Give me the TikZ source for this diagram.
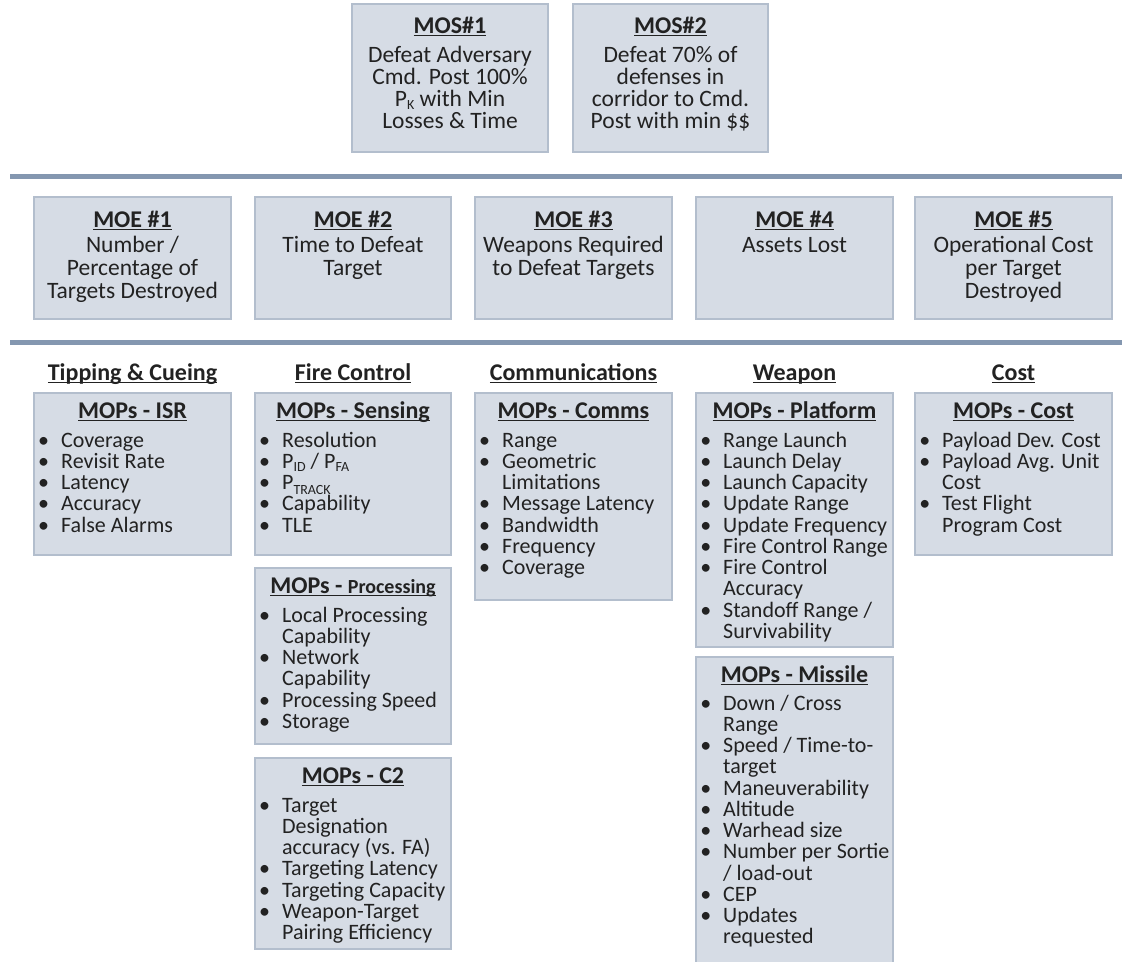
\documentclass[tikz,border=0pt]{standalone}
\usepackage{fontspec}
\setmainfont{Carlito}
\usetikzlibrary{calc}

\definecolor{boxfill}{HTML}{D6DCE5}
\definecolor{boxline}{HTML}{B3BECD}
\definecolor{rulecol}{HTML}{8497B0}
\definecolor{ink}{HTML}{222222}

% underlined heading text
\newsavebox\ulsave
\newcommand\ulbox[1]{\sbox\ulsave{#1}\rlap{\rule[-3.4pt]{\wd\ulsave}{1.7pt}}\usebox\ulsave}
% bullet hanging to the left of an item
\newcommand\bul{\leavevmode\llap{\textbullet\hspace{12pt}}}
% small lowered subscript
\newcommand\lowsub[2]{\raisebox{-#1}{\fontsize{14}{14}\selectfont #2}}

\tikzset{
  panel/.style={draw=boxline, fill=boxfill, line width=1.4pt, rectangle,
                inner sep=0pt, outer sep=0pt, anchor=north west},
  ttl/.style={anchor=base, inner sep=0pt, text=ink,
              font=\fontsize{24}{24}\selectfont\bfseries},
  body/.style={anchor=base, inner sep=0pt, text=ink,
               font=\fontsize{23.5}{22}\selectfont},
  items/.style={anchor=base west, inner sep=0pt, text=ink,
                font=\fontsize{22}{21.25}\selectfont},
  sep/.style={draw=rulecol, line width=5pt}
}

\begin{document}
\begin{tikzpicture}[x=1pt,y=-1pt]
\clip (0,0) rectangle (1124,961);
\fill[white] (0,0) rectangle (1124,961);

% ---- objectives (MOS) ----
\node[panel, minimum width=196, minimum height=148] (mos1) at (352,4) {};
\node[panel, minimum width=195, minimum height=148] (mos2) at (573,4) {};
\node[ttl] (mos1t) at (450,33) {\ulbox{MOS\#1}};
\node[ttl] (mos2t) at (670.5,33) {\ulbox{MOS\#2}};
\node[body] (mos1b) at (450,62) {\parbox[t]{190pt}{\centering
  Defeat Adversary\\Cmd. Post 100\%\\P\lowsub{3pt}{K} with Min\\Losses \& Time}};
\node[body] (mos2b) at (670.5,62) {\parbox[t]{190pt}{\centering
  Defeat 70\% of\\defenses in\\corridor to Cmd.\\Post with min \$\$}};

% ---- separators ----
\coordinate (r1a) at (10,176);  \coordinate (r1b) at (1122,176);
\coordinate (r2a) at (10,342);  \coordinate (r2b) at (1122,342);
\draw[sep] (r1a) -- (r1b);
\draw[sep] (r2a) -- (r2b);

% ---- effectiveness (MOE) ----
\node[panel, minimum width=197, minimum height=122] (moe1) at (34,197) {};
\node[panel, minimum width=196, minimum height=122] (moe2) at (255,197) {};
\node[panel, minimum width=197, minimum height=122] (moe3) at (475,197) {};
\node[panel, minimum width=197, minimum height=122] (moe4) at (696,197) {};
\node[panel, minimum width=197, minimum height=122] (moe5) at (915,197) {};
\node[ttl] (moe1t) at (132.5,227) {\ulbox{MOE \#1}};
\node[ttl] (moe2t) at (353,227)   {\ulbox{MOE \#2}};
\node[ttl] (moe3t) at (573.5,227) {\ulbox{MOE \#3}};
\node[ttl] (moe4t) at (794.5,227) {\ulbox{MOE \#4}};
\node[ttl] (moe5t) at (1013.5,227){\ulbox{MOE \#5}};
\tikzset{moebody/.style={body, font=\fontsize{23.5}{23}\selectfont}}
\node[moebody] (moe1b) at (132.5,252) {\parbox[t]{195pt}{\centering
  Number /\\Percentage of\\Targets Destroyed}};
\node[moebody] (moe2b) at (353,252) {\parbox[t]{195pt}{\centering
  Time to Defeat\\Target}};
\node[moebody] (moe3b) at (573.5,252) {\parbox[t]{195pt}{\centering
  Weapons Required\\to Defeat Targets}};
\node[moebody] (moe4b) at (794.5,252) {\parbox[t]{195pt}{\centering
  Assets Lost}};
\node[moebody] (moe5b) at (1013.5,252) {\parbox[t]{195pt}{\centering
  Operational Cost\\per Target\\Destroyed}};

% ---- column headings ----
\node[ttl] (h1) at (132.5,380) {\ulbox{Tipping \& Cueing}};
\node[ttl] (h2) at (353,380)   {\ulbox{Fire Control}};
\node[ttl] (h3) at (573.5,380) {\ulbox{Communications}};
\node[ttl] (h4) at (794.5,380) {\ulbox{Weapon}};
\node[ttl] (h5) at (1013.5,380){\ulbox{Cost}};

% ---- performance (MOP) panels ----
\node[panel, minimum width=197, minimum height=162] (isr)  at (34,393) {};
\node[panel, minimum width=196, minimum height=162] (sens) at (255,393) {};
\node[panel, minimum width=196, minimum height=176] (proc) at (255,568) {};
\node[panel, minimum width=196, minimum height=191] (ctwo) at (255,758) {};
\node[panel, minimum width=197, minimum height=207] (comm) at (475,393) {};
\node[panel, minimum width=197, minimum height=254] (plat) at (696,393) {};
\node[panel, minimum width=197, minimum height=320] (miss) at (696,657) {};
\node[panel, minimum width=197, minimum height=162] (cost) at (915,393) {};

\node[ttl] (isrt)  at (132.5,418) {\ulbox{MOPs - ISR}};
\node[ttl] (senst) at (353,418)   {\ulbox{MOPs - Sensing}};
\node[ttl] (proct) at (353,593)   {\ulbox{MOPs - {\fontsize{20}{20}\selectfont Processing}}};
\node[ttl] (ctwot) at (353,783)   {\ulbox{MOPs - C2}};
\node[ttl] (commt) at (573.5,418) {\ulbox{MOPs - Comms}};
\node[ttl] (platt) at (794.5,418) {\ulbox{MOPs - Platform}};
\node[ttl] (misst) at (794.5,682) {\ulbox{MOPs - Missile}};
\node[ttl] (costt) at (1013.5,418){\ulbox{MOPs - Cost}};

\node[items] (isrl) at (61,447) {\parbox[t]{250pt}{\raggedright
  \bul Coverage\\\bul Revisit Rate\\\bul Latency\\\bul Accuracy\\\bul False Alarms}};
\node[items] (sensl) at (282,447) {\parbox[t]{250pt}{\raggedright
  \bul Resolution\\
  \bul P\lowsub{3pt}{ID} / P\lowsub{3pt}{FA}\\
  \bul P\lowsub{5pt}{TRACK}\\
  \bul Capability\\
  \bul TLE}};
\node[items] (procl) at (282,622) {\parbox[t]{250pt}{\raggedright
  \bul Local Processing\\Capability\\\bul Network\\Capability\\
  \bul Processing Speed\\\bul Storage}};
\node[items] (ctwol) at (282,812) {\parbox[t]{250pt}{\raggedright
  \bul Target\\Designation\\accuracy (vs. FA)\\\bul Targeting Latency\\
  \bul Targeting Capacity\\\bul Weapon-Target\\Pairing Efficiency}};
\node[items] (comml) at (502,447) {\parbox[t]{250pt}{\raggedright
  \bul Range\\\bul Geometric\\Limitations\\\bul Message Latency\\
  \bul Bandwidth\\\bul Frequency\\\bul Coverage}};
\node[items] (platl) at (723,447) {\parbox[t]{250pt}{\raggedright
  \bul Range Launch\\\bul Launch Delay\\\bul Launch Capacity\\
  \bul Update Range\\\bul Update Frequency\\\bul Fire Control Range\\
  \bul Fire Control\\Accuracy\\\bul Standoff Range /\\Survivability}};
\node[items] (missl) at (723,710) {\parbox[t]{250pt}{\raggedright
  \bul Down / Cross\\Range\\\bul Speed / Time-to-\\target\\
  \bul Maneuverability\\\bul Altitude\\\bul Warhead size\\
  \bul Number per Sortie\\/ load-out\\\bul CEP\\\bul Updates\\requested}};
\node[items] (costl) at (942,447) {\parbox[t]{250pt}{\raggedright
  \bul Payload Dev. Cost\\\bul Payload Avg. Unit\\Cost\\
  \bul Test Flight\\Program Cost}};
\end{tikzpicture}
\end{document}
